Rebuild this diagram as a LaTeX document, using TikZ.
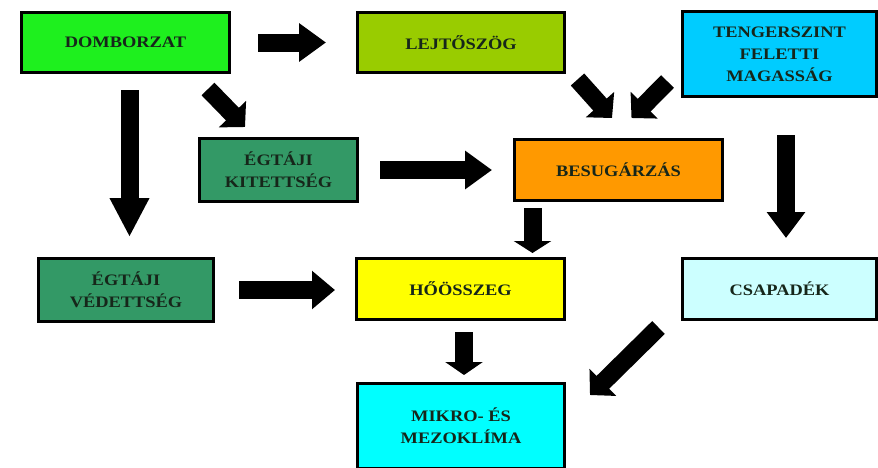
\documentclass[tikz,border=0pt]{standalone}
\usepackage{fontspec}
\setmainfont{Liberation Serif}[FakeStretch=1.15]
\usetikzlibrary{calc}
\usetikzlibrary{arrows.meta}

\definecolor{domgreen}{RGB}{30,240,30}
\definecolor{lejgreen}{RGB}{153,204,0}
\definecolor{tenblue}{RGB}{0,204,255}
\definecolor{seagreen}{RGB}{51,153,102}
\definecolor{besorange}{RGB}{255,153,0}
\definecolor{hooyellow}{RGB}{255,255,0}
\definecolor{csacyan}{RGB}{204,255,255}
\definecolor{mikcyan}{RGB}{0,255,255}
\definecolor{textdark}{RGB}{22,38,26}

\begin{document}
\begin{tikzpicture}[x=1pt, y=-1pt,
    factor/.style={draw, line width=3pt, inner sep=0pt, align=center,
        text=textdark, font=\bfseries\fontsize{16}{22}\selectfont},
    bigarrow/.style={line width=18pt, -{Triangle[width=37pt,length=#1]}},
    bigarrow/.default=25pt]
            \useasboundingbox (0,0) rectangle (878,467);
            \clip (0,0) rectangle (878,467);

            % First row
            \node[factor, fill=domgreen, minimum width=208pt, minimum height=60pt] (dom) at (125.5,42.5) {DOMBORZAT};
            \node[factor, fill=lejgreen, minimum width=207pt, minimum height=60pt] (lej) at (461,42.5) {LEJTŐSZÖG};
            \node[factor, fill=tenblue, minimum width=194pt, minimum height=85pt] (ten) at (779.5,54) {TENGERSZINT\\FELETTI\\MAGASSÁG};

            % Second row
            \node[factor, fill=seagreen, minimum width=158pt, minimum height=63pt] (kit) at (278.5,170) {ÉGTÁJI\\KITETTSÉG};
            \node[factor, fill=besorange, minimum width=208pt, minimum height=61pt] (bes) at (618.5,170) {BESUGÁRZÁS};

            % Third row
            \node[factor, fill=seagreen, minimum width=175pt, minimum height=63pt] (ved) at (126,290) {ÉGTÁJI\\VÉDETTSÉG};
            \node[factor, fill=hooyellow, minimum width=208pt, minimum height=61pt] (hoo) at (460.5,289) {HŐÖSSZEG};
            \node[factor, fill=csacyan, minimum width=194pt, minimum height=61pt] (csa) at (779.5,289) {CSAPADÉK};

            % Result
            \node[factor, fill=mikcyan, minimum width=207pt, minimum height=85pt] (mik) at (461,426) {MIKRO- ÉS\\MEZOKLÍMA};

            % Arrows
            \draw[bigarrow=27pt, shorten <=27pt, shorten >=30pt] (dom.east) -- (lej.west);
            \draw[bigarrow=39pt, shorten <=16pt, shorten >=20pt] ([xshift=4pt]dom.south) -- ([xshift=4pt]dom.south |- ved.north);
            \draw[bigarrow=18pt] ($(dom.south east)+(-23,15)$) -- ($(kit.north west)+(47,-10)$);
            \draw[bigarrow=27pt, shorten <=21pt, shorten >=21pt] (kit.east) -- (kit.east -| bes.west);
            \draw[bigarrow=18pt] ($(lej.south east)+(11.5,5.5)$) -- ($(bes.north)+(-6.5,-20)$);
            \draw[bigarrow=18pt] ($(ten.south west)+(-13.5,-16.5)$) -- ($(bes.north)+(13,-20)$);
            \draw[bigarrow=26pt, shorten <=37pt, shorten >=19pt] ([xshift=6.5pt]ten.south) -- ([xshift=6.5pt]ten.south |- csa.north);
            \draw[bigarrow=12pt, shorten <=6pt, shorten >=4pt] ([xshift=19.5pt]bes.south west) -- ([xshift=19.5pt]bes.south west |- hoo.north);
            \draw[bigarrow=23pt, shorten <=24pt, shorten >=20pt] (ved.east) -- (ved.east -| hoo.west);
            \draw[bigarrow=13pt, shorten <=11pt, shorten >=7pt] ([xshift=3.5pt]hoo.south) -- ([xshift=3.5pt]hoo.south |- mik.north);
            \draw[bigarrow=18pt] ($(csa.south west)+(-22.5,6.5)$) -- ($(mik.north east)+(24,13)$);
\end{tikzpicture}
\end{document}
